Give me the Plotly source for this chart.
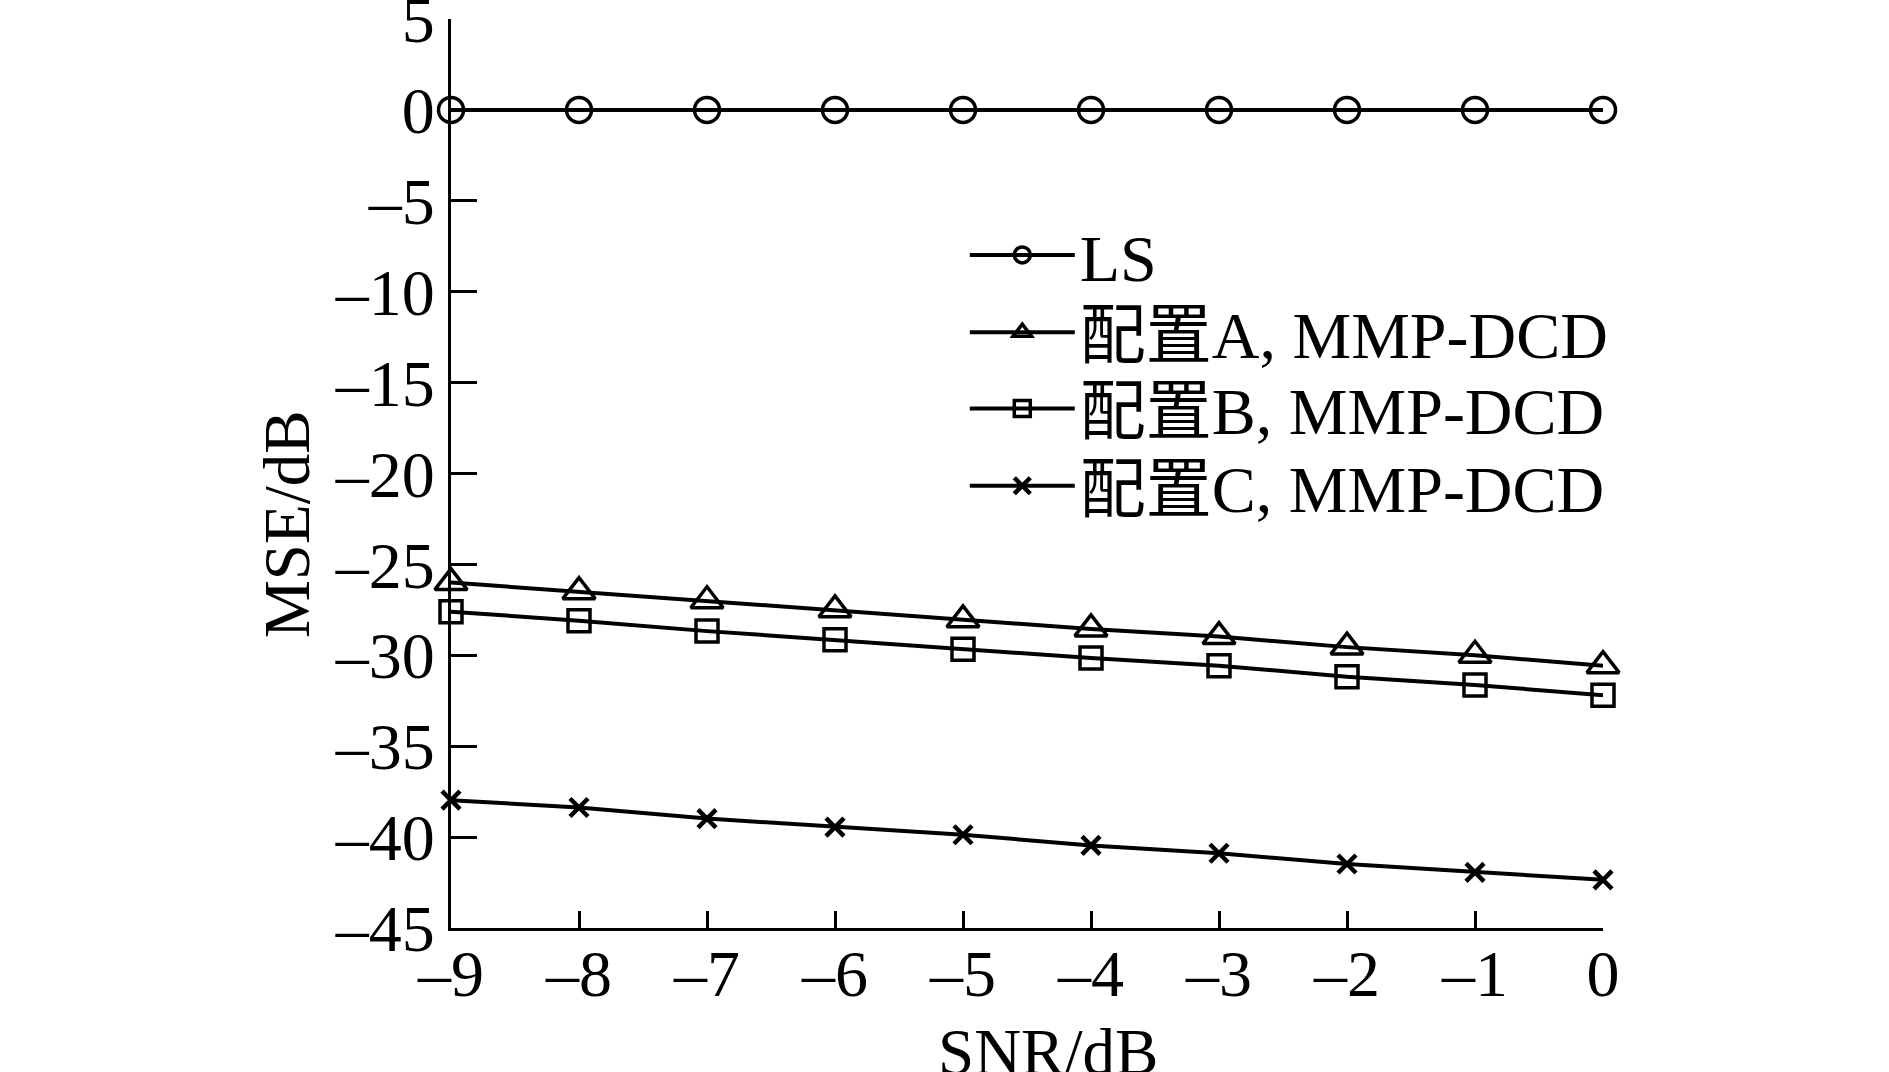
import plotly.graph_objects as go

snr = [-9, -8, -7, -6, -5, -4, -3, -2, -1, 0]
mse_ls = [0, 0, 0, 0, 0, 0, 0, 0, 0, 0]
mse_a = [-26.0, -26.5, -27.0, -27.5, -28.05, -28.55, -28.97, -29.55, -30.0, -30.57]
mse_b = [-27.6, -28.1, -28.67, -29.15, -29.67, -30.15, -30.57, -31.18, -31.63, -32.2]
mse_c = [-37.97, -38.37, -38.98, -39.45, -39.87, -40.46, -40.89, -41.48, -41.94, -42.35]

labels = ["LS", "配置A, MMP-DCD", "配置B, MMP-DCD", "配置C, MMP-DCD"]
x_title = "SNR/dB"
y_title = "MSE/dB"
x_ticks = [-9, -8, -7, -6, -5, -4, -3, -2, -1, 0]
x_ticktext = ["–9", "–8", "–7", "–6", "–5", "–4", "–3", "–2", "–1", "0"]
y_ticks = [5, 0, -5, -10, -15, -20, -25, -30, -35, -40, -45]
y_ticktext = ["5", "0", "–5", "–10", "–15", "–20", "–25", "–30", "–35", "–40", "–45"]

FONT = "Liberation Serif, Times New Roman, Noto Sans CJK SC, serif"

series = [
    (mse_ls, "circle-open", 25, 3.5),
    (mse_a, "triangle-up-open", 28, 3.5),
    (mse_b, "square-open", 22, 3.5),
    (mse_c, "x-thin-open", 18, 4.5),
]
legend_ids = ["legend", "legend2", "legend3", "legend4"]
legend_y = [0.7404, 0.6554, 0.5714, 0.4864]

fig = go.Figure()
for (vals, sym, size, lw), name, lid in zip(series, labels, legend_ids):
    fig.add_trace(go.Scatter(
        x=snr, y=vals, name=name, mode="lines+markers",
        line=dict(color="black", width=4),
        marker=dict(symbol=sym, size=size, color="black",
                    line=dict(color="black", width=lw)),
        cliponaxis=False, legend=lid,
    ))

legend_common = dict(
    x=0.446, xanchor="left", yanchor="middle",
    bgcolor="rgba(0,0,0,0)", borderwidth=0,
    font=dict(family=FONT, size=66, color="black"),
    itemwidth=105,
)
fig.update_layout(
    width=1889, height=1072,
    paper_bgcolor="white", plot_bgcolor="white",
    margin=dict(l=451, r=286, t=19, b=144, autoexpand=False),
    font=dict(family=FONT, size=66, color="black"),
    showlegend=True,
    **{lid: dict(y=ly, **legend_common) for lid, ly in zip(legend_ids, legend_y)},
    annotations=[
        dict(text=x_title, xref="paper", yref="paper", x=0.518, y=-0.136,
             xanchor="center", yanchor="middle", showarrow=False,
             font=dict(family=FONT, size=65, color="black")),
        dict(text=y_title, xref="paper", yref="paper", x=-0.1424, y=0.4444,
             xanchor="center", yanchor="middle", showarrow=False, textangle=-90,
             font=dict(family=FONT, size=65, color="black")),
    ],
)
fig.update_xaxes(
    range=[-9, 0], tickvals=x_ticks, ticktext=x_ticktext,
    showgrid=False, zeroline=False, automargin=False,
    showline=True, linecolor="black", linewidth=3,
    ticks="inside", ticklen=17, tickwidth=3, tickcolor="black",
    tickfont=dict(family=FONT, size=66), ticklabeloverflow="allow",
    ticklabelstandoff=-14,
)
fig.update_yaxes(
    range=[-45, 5], tickvals=y_ticks, ticktext=y_ticktext,
    showgrid=False, zeroline=False, automargin=False,
    showline=True, linecolor="black", linewidth=3,
    ticks="inside", ticklen=26, tickwidth=3, tickcolor="black",
    tickfont=dict(family=FONT, size=66), ticklabeloverflow="allow",
)

fig.write_html("out.html", config={"displayModeBar": False},
               post_script="document.body.style.margin='0';")
